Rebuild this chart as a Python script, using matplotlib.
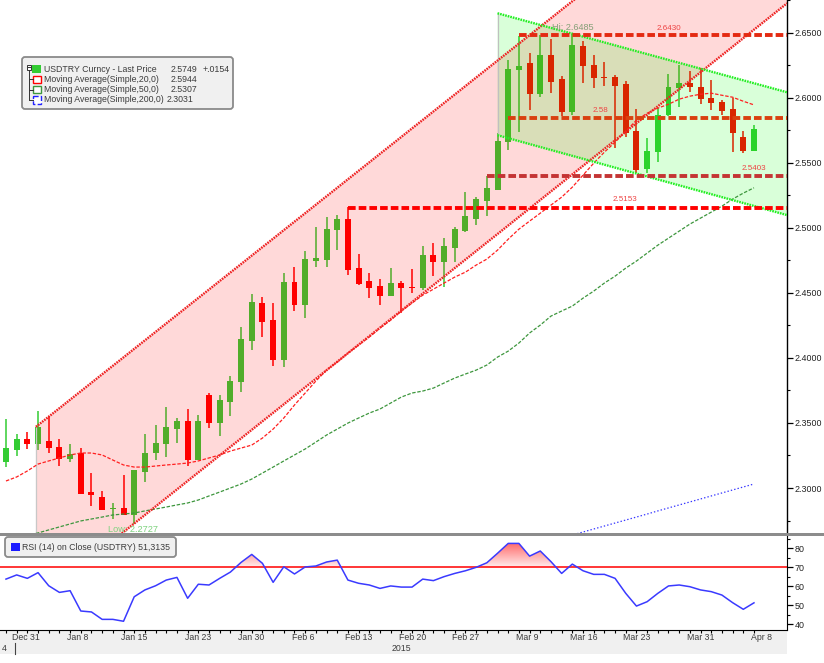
import numpy as np
import pandas as pd
import matplotlib
matplotlib.use('Agg')
import matplotlib.pyplot as plt
import matplotlib.transforms as mtransforms
from matplotlib.patches import Polygon, Rectangle, FancyBboxPatch
from matplotlib.path import Path
from matplotlib.colors import LinearSegmentedColormap

plt.rcParams['font.family'] = ['Liberation Sans', 'DejaVu Sans']
plt.rcParams['lines.scale_dashes'] = False

# trading days shown (weekdays, Dec 31 2014 - Apr 8 2015)
dates = pd.bdate_range('2014-12-31', '2015-04-08')

opens = [2.3200, 2.3292, 2.3376, 2.3338, 2.3361, 2.3315, 2.3223, 2.3269, 2.2969, 2.2931,
         2.2839, 2.2847, 2.2793, 2.3123, 2.3269, 2.3338, 2.3453, 2.3515, 2.3215, 2.3714,
         2.3499, 2.3661, 2.3814, 2.4129, 2.4421, 2.4290, 2.3983, 2.4582, 2.4406, 2.4744,
         2.4751, 2.4982, 2.5066, 2.4690, 2.4590, 2.4552, 2.4475, 2.4575, 2.4544, 2.4536,
         2.4790, 2.4736, 2.4843, 2.4974, 2.5066, 2.5204, 2.5289, 2.5657, 2.6210, 2.6264,
         2.6026, 2.6326, 2.6141, 2.5888, 2.6395, 2.6249, 2.6157, 2.6157, 2.6103, 2.5742,
         2.5450, 2.5581, 2.5865, 2.6072, 2.6111, 2.6080, 2.5995, 2.5965, 2.5911, 2.5696,
         2.5588]
highs = [2.3530, 2.3415, 2.3430, 2.3592, 2.3553, 2.3376, 2.3338, 2.3307, 2.3115, 2.2977,
         2.2885, 2.3100, 2.3138, 2.3415, 2.3484, 2.3622, 2.3538, 2.3607, 2.3561, 2.3730,
         2.3714, 2.3860, 2.4237, 2.4490, 2.4467, 2.4421, 2.4651, 2.4697, 2.4820, 2.5005,
         2.5081, 2.5097, 2.5158, 2.4797, 2.4651, 2.4605, 2.4690, 2.4590, 2.4682, 2.4859,
         2.4882, 2.4920, 2.5005, 2.5273, 2.5235, 2.5396, 2.5727, 2.6287, 2.6472, 2.6341,
         2.6479, 2.6448, 2.6164, 2.6485, 2.6433, 2.6326, 2.6272, 2.6172, 2.6126, 2.5911,
         2.5688, 2.5919, 2.6180, 2.6249, 2.6203, 2.6226, 2.6134, 2.5980, 2.5995, 2.5742,
         2.5788]
lows = [2.3161, 2.3246, 2.3300, 2.3292, 2.3269, 2.3169, 2.3200, 2.2954, 2.2862, 2.2831,
        2.2762, 2.2793, 2.2727, 2.3046, 2.3215, 2.3238, 2.3346, 2.3169, 2.3215, 2.3461,
        2.3400, 2.3553, 2.3737, 2.4060, 2.4160, 2.3937, 2.3929, 2.4360, 2.4306, 2.4697,
        2.4697, 2.4828, 2.4636, 2.4559, 2.4459, 2.4406, 2.4475, 2.4344, 2.4498, 2.4521,
        2.4628, 2.4544, 2.4736, 2.4966, 2.5020, 2.5089, 2.5289, 2.5596, 2.5734, 2.5903,
        2.6003, 2.6034, 2.5857, 2.5865, 2.6111, 2.6072, 2.6088, 2.5611, 2.5696, 2.5419,
        2.5419, 2.5504, 2.5857, 2.5926, 2.6041, 2.5949, 2.5903, 2.5865, 2.5581, 2.5573,
        2.5588]
closes = [2.3307, 2.3376, 2.3338, 2.3469, 2.3307, 2.3223, 2.3261, 2.2954, 2.2946, 2.2831,
          2.2847, 2.2793, 2.3138, 2.3269, 2.3346, 2.3469, 2.3515, 2.3215, 2.3515, 2.3499,
          2.3676, 2.3822, 2.4144, 2.4429, 2.4275, 2.3983, 2.4582, 2.4406, 2.4759, 2.4767,
          2.4989, 2.5066, 2.4674, 2.4567, 2.4536, 2.4475, 2.4575, 2.4536, 2.4536, 2.4790,
          2.4736, 2.4859, 2.4989, 2.5089, 2.5220, 2.5304, 2.5665, 2.6218, 2.6241, 2.6026,
          2.6326, 2.6118, 2.5888, 2.6402, 2.6241, 2.6149, 2.6149, 2.6088, 2.5727, 2.5442,
          2.5588, 2.5865, 2.6080, 2.6111, 2.6080, 2.5988, 2.5957, 2.5896, 2.5727, 2.5588,
          2.5757]

ma20 = [2.3054, 2.3085, 2.3131, 2.3184, 2.3208, 2.3231, 2.3254, 2.3269, 2.3269, 2.3254,
        2.3215, 2.3177, 2.3161, 2.3161, 2.3169, 2.3177, 2.3184, 2.3192, 2.3208, 2.3231,
        2.3254, 2.3284, 2.3307, 2.3330, 2.3384, 2.3453, 2.3538, 2.3638, 2.3730, 2.3822,
        2.3906, 2.3968, 2.4037, 2.4098, 2.4160, 2.4229, 2.4290, 2.4360, 2.4421, 2.4482,
        2.4528, 2.4575, 2.4621, 2.4659, 2.4713, 2.4759, 2.4828, 2.4912, 2.4989, 2.5051,
        2.5112, 2.5174, 2.5235, 2.5312, 2.5404, 2.5496, 2.5581, 2.5657, 2.5742, 2.5826,
        2.5880, 2.5919, 2.5949, 2.5988, 2.6011, 2.6026, 2.6034, 2.6018, 2.6003, 2.5972,
        2.5944]
ma50 = [2.2593, 2.2616, 2.2635, 2.2655, 2.2678, 2.2701, 2.2724, 2.2747, 2.2762, 2.2777,
        2.2793, 2.2800, 2.2808, 2.2824, 2.2839, 2.2854, 2.2870, 2.2885, 2.2908, 2.2939,
        2.2969, 2.3000, 2.3031, 2.3069, 2.3115, 2.3161, 2.3208, 2.3254, 2.3300, 2.3353,
        2.3407, 2.3453, 2.3499, 2.3538, 2.3576, 2.3607, 2.3653, 2.3699, 2.3730, 2.3745,
        2.3768, 2.3807, 2.3845, 2.3876, 2.3906, 2.3945, 2.4006, 2.4052, 2.4114, 2.4191,
        2.4252, 2.4321, 2.4360, 2.4398, 2.4459, 2.4513, 2.4575, 2.4628, 2.4690, 2.4744,
        2.4805, 2.4866, 2.4920, 2.4974, 2.5028, 2.5074, 2.5120, 2.5166, 2.5220, 2.5266,
        2.5307]
ma200_start = 50
ma200 = [2.2570, 2.2593, 2.2616, 2.2639, 2.2662, 2.2685, 2.2708, 2.2731, 2.2754, 2.2777,
         2.2800, 2.2824, 2.2847, 2.2870, 2.2893, 2.2916, 2.2939, 2.2962, 2.2985, 2.3008,
         2.3031]

rsi = [63.8, 66.0, 64.2, 67.2, 60.3, 56.8, 57.7, 47.0, 46.5, 42.6,
       42.6, 41.6, 54.5, 58.1, 60.3, 63.3, 64.7, 53.7, 61.1, 60.7,
       64.2, 67.5, 72.6, 76.8, 72.1, 62.1, 70.3, 66.5, 70.2, 70.7,
       72.8, 73.8, 63.3, 61.6, 60.7, 58.9, 60.2, 59.6, 59.6, 63.8,
       63.0, 65.1, 66.8, 68.2, 70.0, 72.4, 77.4, 82.6, 82.6, 75.9,
       78.6, 73.0, 66.8, 71.7, 68.2, 66.3, 66.3, 64.2, 56.3, 49.6,
       51.9, 56.3, 60.2, 60.7, 59.8, 58.1, 57.2, 55.4, 51.4, 47.9,
       51.3135]

# drawn trend channels (candle index, price)
up_chan_x, up_chan_y = [2.8, 73.1], [2.347, 2.805]
lo_chan_x, lo_chan_y = [10.65, 73.1], [2.2639, 2.6725]
gr_up_x, gr_up_y = [46.0, 73.1], [2.6648, 2.6041]
gr_lo_x, gr_lo_y = [46.0, 73.1], [2.5711, 2.5097]

# horizontal levels
level_prices = [2.6484, 2.5844, 2.5399, 2.5153]
level_start = [48, 47, 45, 32]
level_labels = ['2.6430', '2.58', '2.5403', '2.5153']
level_colors = ['#e42a12', '#d9400f', '#c43434', '#ff0000']

label_dates = ['2014-12-31', '2015-01-08', '2015-01-15', '2015-01-23', '2015-01-30',
               '2015-02-06', '2015-02-13', '2015-02-20', '2015-02-27', '2015-03-09',
               '2015-03-16', '2015-03-23', '2015-03-31', '2015-04-08']
label_text = ['Dec 31', 'Jan 8', 'Jan 15', 'Jan 23', 'Jan 30', 'Feb 6', 'Feb 13',
              'Feb 20', 'Feb 27', 'Mar 9', 'Mar 16', 'Mar 23', 'Mar 31', 'Apr 8']

legend_names = ['USDTRY Curncy - Last Price', 'Moving Average(Simple,20,0)',
                'Moving Average(Simple,50,0)', 'Moving Average(Simple,200,0)']
legend_values = ['2.5749', '2.5944', '2.5307', '2.3031']

W, H = 824, 663
fig = plt.figure(figsize=(W / 100, H / 100), dpi=100)
fig.patch.set_facecolor('white')

ax = fig.add_axes([0, 1 - 535 / H, 787 / W, 535 / H])
ax2 = fig.add_axes([0, 1 - 630 / H, 787 / W, 94 / H])

x = np.arange(len(dates))
o, h, l, c = map(np.array, (opens, highs, lows, closes))
cols = np.where(c >= o, '#33cc33', '#ff0000')
ax.vlines(x, l, h, colors=cols, lw=1.1, zorder=2)
body = np.maximum(np.abs(c - o), 0.0009)
ax.bar(x, body, bottom=np.minimum(o, c), width=0.56, color=cols, linewidth=0, zorder=2.1)

# channel fills (drawn over the candles, translucent)
pink = Polygon([(up_chan_x[0], lo_chan_y[0]), (up_chan_x[0], up_chan_y[0]),
                (up_chan_x[1], up_chan_y[1]), (lo_chan_x[1], lo_chan_y[1]),
                (lo_chan_x[0], lo_chan_y[0])],
               closed=True, facecolor=(1, 0, 0, 0.15), edgecolor='none', zorder=3)
ax.add_patch(pink)
green = Polygon([(gr_up_x[0], gr_up_y[0]), (gr_up_x[1], gr_up_y[1]),
                 (gr_lo_x[1], gr_lo_y[1]), (gr_lo_x[0], gr_lo_y[0])],
                closed=True, facecolor=(0, 1, 0, 0.15), edgecolor='none', zorder=3)
ax.add_patch(green)
ax.plot([up_chan_x[0]] * 2, [lo_chan_y[0], up_chan_y[0]], color='#c8c8c8', lw=0.9, zorder=3.1)
ax.plot([gr_up_x[0]] * 2, [gr_lo_y[0], gr_up_y[0]], color='#c0c0c0', lw=0.9, zorder=3.1)

# moving averages
ax.plot(x, ma20, color='#ff2020', lw=0.9, dashes=(2.5, 1.2), zorder=4)
ax.plot(x, ma50, color='#3d963d', lw=0.9, dashes=(2.5, 1.2), zorder=4)
ax.plot(x[ma200_start:], ma200, color='#3535ff', lw=0.9, dashes=(1.0, 1.5), zorder=4)

# channel lines
ax.plot(up_chan_x, up_chan_y, color='#ee2222', lw=1.7, dashes=(1.2, 0.7), zorder=5)
ax.plot(lo_chan_x, lo_chan_y, color='#ee2222', lw=1.7, dashes=(1.2, 0.7), zorder=5)
ax.plot(gr_up_x, gr_up_y, color='#22ee22', lw=1.7, dashes=(1.2, 0.7), zorder=5)
ax.plot(gr_lo_x, gr_lo_y, color='#22ee22', lw=1.7, dashes=(1.2, 0.7), zorder=5)

# horizontal levels
for p, s, col in zip(level_prices, level_start, level_colors):
    ax.plot([s, 73.2], [p, p], color=col, lw=2.8, dashes=(5.5, 2.2),
            solid_capstyle='butt', dash_capstyle='butt', zorder=6)
lab_pos = [(62.0, 2.6533), (55.6, 2.5903), (70.0, 2.5452), (57.9, 2.5220)]
for (lx, ly), t in zip(lab_pos, level_labels):
    ax.text(lx, ly, t, color='#ee4444', fontsize=5.8, ha='center', va='center', zorder=7)

ax.text(51.1, 2.6541, 'Hi: ' + f'{max(highs):.4f}', color='#86a078', fontsize=6.6,
        ha='left', va='center', zorder=7)
ax.text(9.55, 2.2685, 'Low: ' + f'{min(lows):.4f}', color='#7fd27f', fontsize=6.6,
        ha='left', va='center', zorder=7)

ax.set_xlim(-0.56, 73.09)
ax.set_ylim(2.2639, 2.6748)
ax.set_xticks([])
ax.yaxis.tick_right()
ax.set_yticks(np.arange(2.30, 2.651, 0.05))
ax.set_yticks(np.arange(2.275, 2.676, 0.05), minor=True)
ax.yaxis.set_major_formatter(matplotlib.ticker.FormatStrFormatter('%.4f'))
for s in ['left', 'top', 'bottom']:
    ax.spines[s].set_visible(False)
ax.spines['right'].set_linewidth(1.0)
ax.tick_params(axis='y', which='major', direction='out', length=4, width=0.9,
               labelsize=6.4, pad=1.5, labelcolor='#222222')
ax.tick_params(axis='y', which='minor', direction='out', length=2.5, width=0.8)

# RSI panel
r = np.array(rsi)
fb = ax2.fill_between(x, r, 70, where=r > 70, interpolate=True,
                      facecolor='none', edgecolor='none')
clip = Path.make_compound_path(*fb.get_paths())
grad = np.linspace(0, 1, 256).reshape(-1, 1)
cmap = LinearSegmentedColormap.from_list('rsi_fill', ['#ffecec', '#ff5a5a'])
im = ax2.imshow(grad, extent=[x[0], x[-1], 70, 84], origin='lower', cmap=cmap,
                aspect='auto', zorder=1)
im.set_clip_path(clip, ax2.transData)
ax2.axhline(70, color='#ff0000', lw=1.1, zorder=2)
ax2.plot(x, r, color='#3a3aff', lw=1.1, zorder=3)

ax2.set_xlim(-0.56, 73.09)
ax2.set_ylim(37.0, 86.5)
ax2.yaxis.tick_right()
ax2.set_yticks([40, 50, 60, 70, 80])
ax2.set_yticks([45, 55, 65, 75, 85], minor=True)
ax2.set_xticks(x)
ax2.tick_params(axis='x', direction='out', length=2.5, width=0.8, labelbottom=False)
ax2.tick_params(axis='y', which='major', direction='out', length=4, width=0.9,
                labelsize=6.4, pad=1.5, labelcolor='#222222')
ax2.tick_params(axis='y', which='minor', direction='out', length=2.5, width=0.8)
for s in ['left', 'top']:
    ax2.spines[s].set_visible(False)

# date band behind the labels
fig.patches.append(Rectangle((0, 1 - 654 / H), 787 / W, 24 / H, transform=fig.transFigure,
                             facecolor='#f0f0f0', edgecolor='none', zorder=-1))

# overlay in pixel coordinates for separators, legends and date labels
ov = fig.add_axes([0, 0, 1, 1], zorder=10)
ov.set_xlim(0, W)
ov.set_ylim(H, 0)
ov.axis('off')

ov.add_patch(Rectangle((0, 533), W, 3, facecolor='#8c8c8c', edgecolor='none'))

tc = '#3c3c3c'
fs = 6.3
ov.add_patch(FancyBboxPatch((22, 57), 211, 52, boxstyle='round,pad=0,rounding_size=3',
                            facecolor='#f0f0f0', edgecolor='#8a8a8a', lw=1.3))
rows = [69, 79.3, 89.6, 100]
ov.add_patch(Rectangle((27, 65), 4.5, 4.5, facecolor='white', edgecolor='#333333', lw=0.7))
ov.plot([28, 30.5], [67.25, 67.25], color='#333333', lw=0.7)
ov.plot([29.3, 29.3], [69.5, rows[3]], color='#333333', lw=0.7)
for yy in rows[1:]:
    ov.plot([29.3, 33], [yy, yy], color='#333333', lw=0.7)
ov.add_patch(Rectangle((32.5, 64.5), 9, 8.5, facecolor='#33cc33', edgecolor='none'))
box_cols = ['#ff0000', '#3d963d', '#2020ff']
for yy, bc, k in zip(rows[1:], box_cols, range(3)):
    ov.add_patch(Rectangle((33.5, yy - 3.8), 8, 7.5, facecolor='white', edgecolor=bc, lw=1.0,
                           linestyle='--' if k == 2 else '-'))
val_x = [171, 171, 171, 167]
for yy, name, val, vx in zip(rows, legend_names, legend_values, val_x):
    ov.text(44.5, yy, name, fontsize=fs, color=tc, va='center', ha='left')
    ov.text(vx, yy, val, fontsize=fs, color=tc, va='center', ha='left')
ov.text(203, rows[0], '+.0154', fontsize=fs, color=tc, va='center', ha='left')

ov.add_patch(FancyBboxPatch((5, 537), 171, 20, boxstyle='round,pad=0,rounding_size=3',
                            facecolor='#f0f0f0', edgecolor='#8a8a8a', lw=1.3))
ov.add_patch(Rectangle((11, 542.5), 9, 8.5, facecolor='#1a1aff', edgecolor='none'))
ov.text(22, 547.5, 'RSI (14) on Close (USDTRY) ' + f'{rsi[-1]:.4f}'.replace('.', ','),
        fontsize=fs, color=tc, va='center', ha='left')

# date labels
tr = mtransforms.blended_transform_factory(ax2.transData, ov.transData)
for d, t in zip(label_dates, label_text):
    i = dates.get_loc(pd.Timestamp(d))
    ov.text(max(i - 0.25, 0.56), 637.5, t, transform=tr, fontsize=fs, color=tc,
            ha='left', va='center')
ov.text(2, 648.5, '4', fontsize=fs, color=tc, ha='left', va='center')
ov.text(401, 648.5, '2015', fontsize=fs, color=tc, ha='center', va='center')
ov.plot([15, 15], [643, 654], color='#444444', lw=0.8)

fig.savefig('out.png', dpi=100)
